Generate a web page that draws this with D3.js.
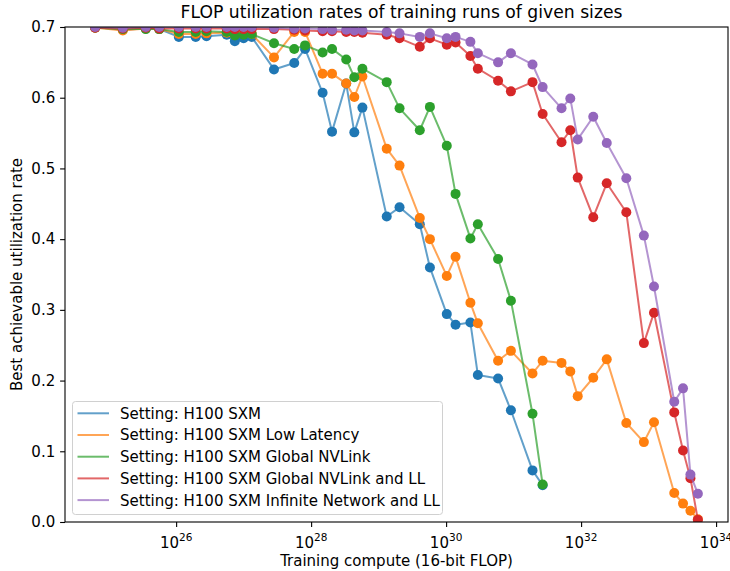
<!DOCTYPE html>
<html>
<head>
<meta charset="utf-8">
<script src="https://cdn.jsdelivr.net/npm/d3@7"></script>
<style>
  html, body { margin: 0; padding: 0; background: #fff; }
  svg { display: block; font-family: "DejaVu Sans", sans-serif; }
</style>
</head>
<body>
<svg id="chart" width="730" height="571"></svg>
<script>
// ---- Data ----
// Training compute, as log10(FLOP)
const computeExp = [24.80, 25.21, 25.55, 25.75, 26.04, 26.29, 26.45, 26.75, 26.87, 27.00, 27.12,
  27.45, 27.75, 27.91, 28.17, 28.31, 28.52, 28.64, 28.76, 29.12, 29.31, 29.61, 29.76, 30.01,
  30.14, 30.36, 30.47, 30.77, 30.96, 31.28, 31.43, 31.71, 31.84, 31.95, 32.18, 32.38, 32.67,
  32.93, 33.08, 33.38, 33.51, 33.62, 33.73];

const seriesNames = [
  "Setting: H100 SXM",
  "Setting: H100 SXM Low Latency",
  "Setting: H100 SXM Global NVLink",
  "Setting: H100 SXM Global NVLink and LL",
  "Setting: H100 SXM Infinite Network and LL"
];

const h100Sxm = [0.700, 0.696, 0.698, 0.697, 0.686, 0.686, 0.687, 0.689, 0.680, 0.684, 0.686,
  0.640, 0.649, 0.669, 0.607, 0.552, 0.620, 0.551, 0.586, 0.432, 0.445, 0.421, 0.360, 0.294,
  0.279, 0.282, 0.208, 0.203, 0.158, 0.073, 0.052];

const h100LowLatency = [0.699, 0.695, 0.698, 0.697, 0.690, 0.690, 0.691, 0.692, 0.689, 0.690, 0.690,
  0.657, 0.693, 0.693, 0.634, 0.634, 0.620, 0.601, 0.630, 0.528, 0.504, 0.430, 0.400, 0.348,
  0.375, 0.310, 0.281, 0.228, 0.242, 0.210, 0.228, 0.225, 0.213, 0.178, 0.204, 0.230, 0.140,
  0.113, 0.141, 0.041, 0.026, 0.016, 0.004];

const h100GlobalNVLink = [0.699, 0.697, 0.697, 0.697, 0.693, 0.693, 0.694, 0.693, 0.688, 0.689, 0.690,
  0.677, 0.669, 0.674, 0.664, 0.669, 0.654, 0.629, 0.641, 0.622, 0.585, 0.554, 0.587, 0.532,
  0.464, 0.401, 0.421, 0.372, 0.313, 0.153, 0.053];

const h100GlobalNVLinkLL = [0.699, 0.698, 0.699, 0.698, 0.698, 0.698, 0.698, 0.698, 0.697, 0.697, 0.697,
  0.697, 0.696, 0.695, 0.694, 0.694, 0.693, 0.693, 0.692, 0.689, 0.684, 0.672, 0.684, 0.675,
  0.678, 0.659, 0.641, 0.624, 0.609, 0.622, 0.577, 0.537, 0.554, 0.487, 0.431, 0.479, 0.438,
  0.253, 0.296, 0.155, 0.101, 0.062, 0.003];

const h100InfiniteLL = [0.700, 0.699, 0.700, 0.700, 0.700, 0.700, 0.700, 0.700, 0.700, 0.700, 0.700,
  0.699, 0.698, 0.698, 0.697, 0.696, 0.696, 0.695, 0.695, 0.693, 0.691, 0.686, 0.691, 0.684,
  0.686, 0.679, 0.663, 0.650, 0.663, 0.647, 0.615, 0.585, 0.599, 0.541, 0.573, 0.536, 0.486,
  0.405, 0.333, 0.170, 0.189, 0.067, 0.040];

const seriesValues = [h100Sxm, h100LowLatency, h100GlobalNVLink, h100GlobalNVLinkLL, h100InfiniteLL];
const colors = ["#1f77b4", "#ff7f0e", "#2ca02c", "#d62728", "#9467bd"];
const xTickExps = [26, 28, 30, 32, 34];
const yTicks = [0.0, 0.1, 0.2, 0.3, 0.4, 0.5, 0.6, 0.7];

// ---- Layout ----
const W = 730, H = 571;
const m = { left: 65, right: 2, top: 27, bottom: 49 };
const pw = W - m.left - m.right, ph = H - m.top - m.bottom;

const svg = d3.select("#chart");

const minE = d3.min(computeExp), maxE = d3.max(computeExp);
const pad = (maxE - minE) * 0.05;
const x = d3.scaleLog()
  .domain([Math.pow(10, minE - pad), Math.pow(10, maxE + pad)])
  .range([m.left, m.left + pw]);
const y = d3.scaleLinear().domain([0, 0.7]).range([m.top + ph, m.top]);

svg.append("defs").append("clipPath").attr("id", "clip")
  .append("rect").attr("x", m.left).attr("y", m.top).attr("width", pw).attr("height", ph);

// ---- Series ----
const plot = svg.append("g").attr("clip-path", "url(#clip)");
const line = d3.line().x(d => x(d[0])).y(d => y(d[1]));

seriesValues.forEach((vals, i) => {
  const pts = vals.map((v, j) => [Math.pow(10, computeExp[j]), v]);
  const g = plot.append("g");
  g.append("path").datum(pts)
    .attr("d", line)
    .attr("fill", "none")
    .attr("stroke", colors[i])
    .attr("stroke-width", 2)
    .attr("stroke-opacity", 0.7)
    .attr("stroke-linejoin", "round")
    .attr("stroke-linecap", "square");
  g.selectAll("circle").data(pts).enter().append("circle")
    .attr("cx", d => x(d[0]))
    .attr("cy", d => y(d[1]))
    .attr("r", 5)
    .attr("fill", colors[i]);
});

// ---- Axes ----
const fs = 15;
const xAxis = d3.axisBottom(x)
  .tickValues(xTickExps.map(e => Math.pow(10, e)))
  .tickSize(4.9).tickFormat(() => "");
const xg = svg.append("g").attr("transform", `translate(0,${m.top + ph})`).call(xAxis);
xg.select(".domain").remove();
xg.selectAll(".tick line").attr("stroke", "#000").attr("stroke-width", 1.1);

xTickExps.forEach(e => {
  const t = svg.append("text")
    .attr("x", x(Math.pow(10, e)))
    .attr("y", m.top + ph + 26)
    .attr("font-size", fs)
    .attr("text-anchor", "middle")
    .attr("fill", "#000");
  t.append("tspan").text("10");
  t.append("tspan").attr("font-size", fs * 0.7).attr("dy", -7).text(String(e));
});

const yAxis = d3.axisLeft(y).tickValues(yTicks).tickSize(4.9).tickPadding(4.9)
  .tickFormat(d3.format(".1f"));
const yg = svg.append("g").attr("transform", `translate(${m.left},0)`).call(yAxis);
yg.select(".domain").remove();
yg.selectAll(".tick line").attr("stroke", "#000").attr("stroke-width", 1.1);
yg.selectAll(".tick text").attr("font-size", fs).attr("font-family", "DejaVu Sans").attr("fill", "#000");

// frame
svg.append("rect")
  .attr("x", m.left).attr("y", m.top).attr("width", pw).attr("height", ph)
  .attr("fill", "none").attr("stroke", "#000").attr("stroke-width", 1.1);

// ---- Labels ----
svg.append("text")
  .attr("x", m.left + pw / 2 + 5).attr("y", 18)
  .attr("text-anchor", "middle").attr("font-size", 17.2).attr("fill", "#000")
  .text("FLOP utilization rates of training runs of given sizes");

svg.append("text")
  .attr("x", m.left + pw / 2).attr("y", 566)
  .attr("text-anchor", "middle").attr("font-size", fs).attr("fill", "#000")
  .text("Training compute (16-bit FLOP)");

svg.append("text")
  .attr("transform", `translate(22,${m.top + ph / 2}) rotate(-90)`)
  .attr("text-anchor", "middle").attr("font-size", fs).attr("fill", "#000")
  .text("Best achievable utilization rate");

// ---- Legend ----
const lg = svg.append("g");
lg.append("rect")
  .attr("x", 72.5).attr("y", 401.5).attr("width", 370).attr("height", 113)
  .attr("rx", 3).attr("fill", "#fff").attr("fill-opacity", 0.8)
  .attr("stroke", "#d0d0d0").attr("stroke-width", 1);
seriesNames.forEach((name, i) => {
  const cy = 413.3 + i * 21.7;
  lg.append("line")
    .attr("x1", 77.5).attr("x2", 109).attr("y1", cy).attr("y2", cy)
    .attr("stroke", colors[i]).attr("stroke-width", 2).attr("stroke-opacity", 0.7);
  lg.append("text")
    .attr("x", 120).attr("y", cy).attr("dy", "0.36em")
    .attr("font-size", fs).attr("fill", "#000")
    .text(name);
});
</script>
</body>
</html>
